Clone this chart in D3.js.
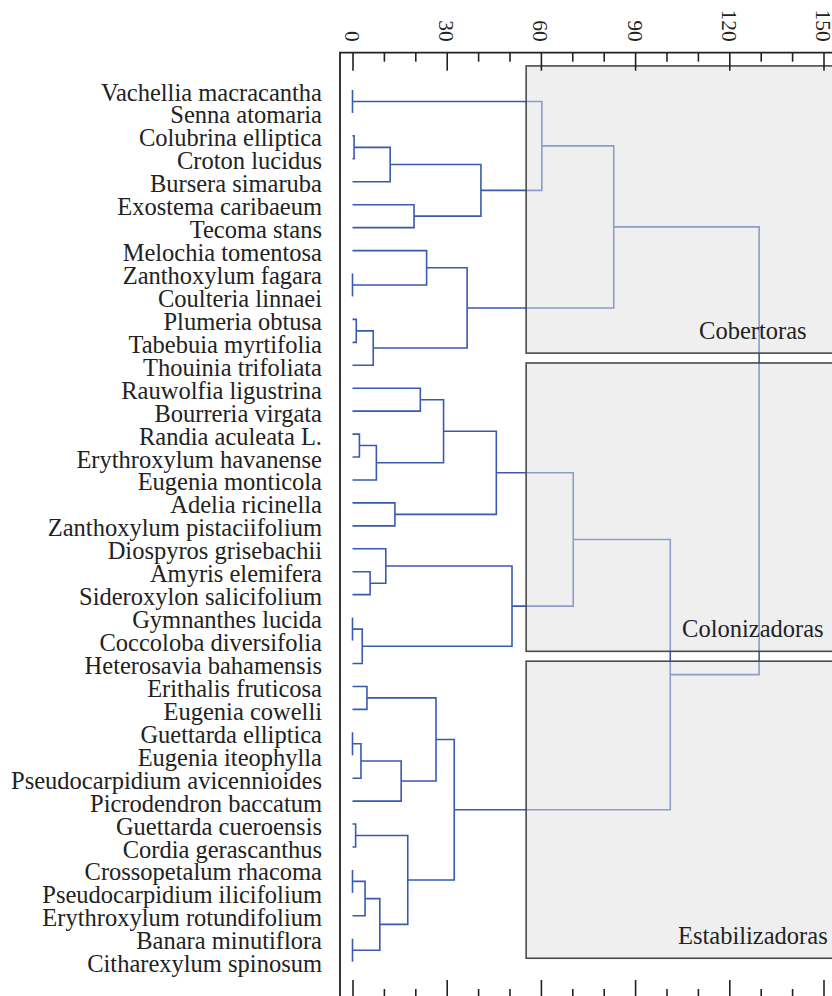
<!DOCTYPE html>
<html>
<head>
<meta charset="utf-8">
<script src="https://cdn.jsdelivr.net/npm/d3@7"></script>
<style>
body { margin: 0; background: #fff; }
text { font-family: "Liberation Serif", "Times New Roman", serif; fill: #222; }
</style>
</head>
<body>
<svg id="chart" width="832" height="996"></svg>
<script>
// leaves, top to bottom
var species = ["Vachellia macracantha","Senna atomaria","Colubrina elliptica","Croton lucidus",
	"Bursera simaruba","Exostema caribaeum","Tecoma stans","Melochia tomentosa","Zanthoxylum fagara",
	"Coulteria linnaei","Plumeria obtusa","Tabebuia myrtifolia","Thouinia trifoliata","Rauwolfia ligustrina",
	"Bourreria virgata","Randia aculeata L.","Erythroxylum havanense","Eugenia monticola","Adelia ricinella",
	"Zanthoxylum pistaciifolium","Diospyros grisebachii","Amyris elemifera","Sideroxylon salicifolium",
	"Gymnanthes lucida","Coccoloba diversifolia","Heterosavia bahamensis","Erithalis fruticosa",
	"Eugenia cowelli","Guettarda elliptica","Eugenia iteophylla","Pseudocarpidium avicennioides",
	"Picrodendron baccatum","Guettarda cueroensis","Cordia gerascanthus","Crossopetalum rhacoma",
	"Pseudocarpidium ilicifolium","Erythroxylum rotundifolium","Banara minutiflora","Citharexylum spinosum"];

// hclust style merge table: negative = leaf number, positive = earlier merge
var merges = [[-1,-2],[-3,-4],[2,-5],[-6,-7],[3,4],[1,5],[-9,-10],[-8,7],[-11,-12],[9,-13],[8,10],[6,11],
	[-14,-15],[-16,-17],[14,-18],[13,15],[-19,-20],[16,17],[-22,-23],[-21,19],[-24,-25],[21,-26],[20,22],[18,23],
	[-27,-28],[-29,-30],[26,-31],[27,-32],[25,28],[-33,-34],[-35,-36],[31,-37],[-38,-39],[32,33],[30,34],[29,35],
	[24,36],[12,37]];
var heights = [0,0.5,12,19.6,40.9,60.3,0,23.6,1.2,6.6,36.5,83.2,
	21.6,2.2,7.6,29,13.5,45.8,5.6,10.6,0,3.1,50.8,70.3,
	4.6,0,2.7,15.5,26.6,1,0,4,0,8.7,17.6,32.4,
	101.2,129.5];

var groups = ["Cobertoras","Colonizadoras","Estabilizadoras"];
var groupSpans = [[-1.05,11.47],[11.9,24.47],[24.9,37.85]]; // in leaf positions
var groupStart = 55.3;

var majorTicks = [0,30,60,90,120,150];
var minorTicks = [10,20,40,50,70,80,100,110,130,140,160];

var svg = d3.select("#chart");

var x = d3.scaleLinear().domain([0,150]).range([352.5,823.5]);
var y = d3.scalePoint().domain(species).range([90,961.7]);
var yIdx = d3.scaleLinear().domain([0,species.length-1]).range([90,961.7]);

// node positions
function nodeY(k){
	if (k < 0) return y(species[-k-1]);
	return (nodeY(merges[k-1][0]) + nodeY(merges[k-1][1]))/2;
}
function nodeH(k){
	if (k < 0) return 0;
	return heights[k-1];
}

// dendrogram
var tree = svg.append("g").attr("id","tree");
tree.selectAll("path")
	.data(merges)
.enter().append("path")
	.attr("d", function(m,i){
		var h = heights[i];
		var ya = nodeY(m[0]), yb = nodeY(m[1]);
		return "M"+x(nodeH(m[0]))+","+ya+"H"+x(h)+"V"+yb+"H"+x(nodeH(m[1]));
	})
	.style("fill","none")
	.style("stroke","#3a5ab0")
	.style("stroke-width",1.6);

// group boxes over the tree
var boxes = svg.append("g").attr("id","boxes");
boxes.selectAll("rect")
	.data(groupSpans)
.enter().append("rect")
	.attr("x", x(groupStart))
	.attr("y", function(d){ return yIdx(d[0]); })
	.attr("width", 400)
	.attr("height", function(d){ return yIdx(d[1]) - yIdx(d[0]); })
	.style("fill","rgb(224,224,224)")
	.style("fill-opacity",0.5)
	.style("stroke","#4a4a4a")
	.style("stroke-width",1.6);

boxes.selectAll("text")
	.data(groups)
.enter().append("text")
	.attr("x", x(127.5))
	.attr("y", function(d,i){ return yIdx(groupSpans[i][1]) - 14; })
	.attr("text-anchor","middle")
	.style("font-size","24.5px")
	.text(function(d){ return d; });

// leaf labels
svg.append("g").selectAll("text")
	.data(species)
.enter().append("text")
	.attr("x", 322)
	.attr("y", function(d){ return y(d) + 10.5; })
	.attr("text-anchor","end")
	.style("font-size","24.5px")
	.text(function(d){ return d; });

// axes: top with ticks down, bottom (cut off) with ticks up
var axTop = svg.append("g").attr("transform","translate(0,52.7)");
axTop.call(d3.axisBottom(x).tickValues(majorTicks).tickSize(18).tickFormat(""));
axTop.append("g").call(d3.axisBottom(x).tickValues(minorTicks).tickSize(9).tickFormat(""));
var axBot = svg.append("g").attr("transform","translate(0,998)");
axBot.call(d3.axisTop(x).tickValues(majorTicks).tickSize(18).tickFormat(""));
axBot.append("g").call(d3.axisTop(x).tickValues(minorTicks).tickSize(9).tickFormat(""));
svg.selectAll(".domain").remove();
svg.selectAll(".tick line").style("stroke","#222").style("stroke-width",1.6);

svg.append("path")
	.attr("d","M340,996V52.7H840")
	.style("fill","none")
	.style("stroke","#222")
	.style("stroke-width",1.8);

axTop.selectAll(".lab")
	.data(majorTicks)
.enter().append("text")
	.attr("class","lab")
	.attr("transform", function(d){ return "translate("+x(d)+",-11) rotate(90)"; })
	.attr("text-anchor","end")
	.attr("dy","0.35em")
	.style("font-size","21.5px")
	.text(function(d){ return d; });
</script>
</body>
</html>
